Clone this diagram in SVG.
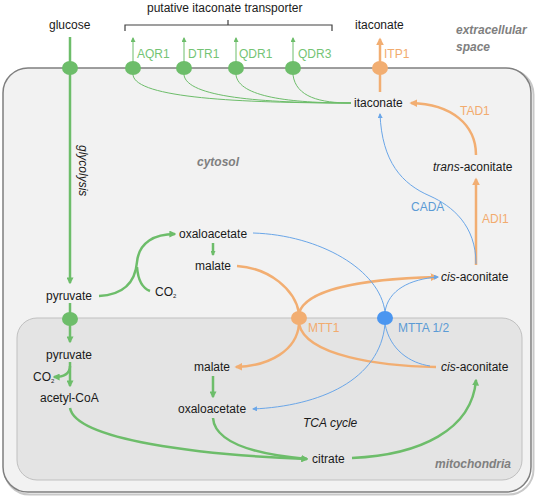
<svg xmlns="http://www.w3.org/2000/svg" width="535" height="496" viewBox="0 0 535 496">
<style>
text{font-family:"Liberation Sans",Arial,sans-serif;font-size:12px;fill:#1a1a1a}
.lbl{font-size:12px}
.g{fill:#74c474}
.o{fill:#f2ab6e}
.b{fill:#5b9bd5}
.zone{font-weight:bold;font-style:italic;fill:#7f7f7f}
.gt{stroke:#6dbd6a;stroke-width:2.5;fill:none}
.gn{stroke:#6dbd6a;stroke-width:1;fill:none}
.ot{stroke:#f2ae72;stroke-width:2.5;fill:none}
.bn{stroke:#6aa6e8;stroke-width:1;fill:none}
</style>
<defs>
<marker id="ag" viewBox="0 0 10 10" refX="8" refY="5" markerWidth="7" markerHeight="7" markerUnits="userSpaceOnUse" orient="auto"><path d="M0,0 L10,5 L0,10 z" fill="#6dbd6a"/></marker>
<marker id="ags" viewBox="0 0 10 10" refX="8" refY="5" markerWidth="5" markerHeight="5" markerUnits="userSpaceOnUse" orient="auto"><path d="M0,0 L10,5 L0,10 z" fill="#6dbd6a"/></marker>
<marker id="ao" viewBox="0 0 10 10" refX="8" refY="5" markerWidth="8" markerHeight="8" markerUnits="userSpaceOnUse" orient="auto"><path d="M0,0 L10,5 L0,10 z" fill="#f2ae72"/></marker>
<marker id="ab" viewBox="0 0 10 10" refX="8" refY="5" markerWidth="5" markerHeight="5" markerUnits="userSpaceOnUse" orient="auto"><path d="M0,0 L10,5 L0,10 z" fill="#6aa6e8"/></marker>
</defs>

<g id="cell">
<rect x="4.5" y="69.5" width="529" height="425" rx="25" fill="none" stroke="#c8c8c8" stroke-width="2"/>
<rect x="3" y="68" width="528" height="424" rx="25" fill="#f2f2f2" stroke="#7f7f7f" stroke-width="1.5"/>
</g>
<g id="mitochondria">
<rect x="17" y="318" width="505" height="162" rx="20" fill="#e4e4e4" stroke="#c0c0c0" stroke-width="1"/>
</g>

<g id="labels-zones">
<text class="zone" x="456" y="34">extracellular</text>
<text class="zone" x="456" y="51">space</text>
<text class="zone" x="197" y="166">cytosol</text>
<text class="zone" x="435" y="468">mitochondria</text>
<text x="303" y="427" font-style="italic">TCA cycle</text>
<text x="79" y="145" font-style="italic" transform="rotate(90 79 145)">glycolysis</text>
</g>

<g id="connectors">
<!-- bracket -->
<path d="M125,31 L125,25 L332,25 L332,31 M228,25 L228,20" fill="none" stroke="#404040" stroke-width="1.2"/>
<!-- glucose -> pyruvate -->
<path class="gt" d="M70,37 L70,283" marker-end="url(#ag)"/>
<!-- transporter arrows -->
<path class="gn" d="M133,68 L133,38" marker-end="url(#ags)"/>
<path class="gn" d="M184,68 L184,38" marker-end="url(#ags)"/>
<path class="gn" d="M236,68 L236,38" marker-end="url(#ags)"/>
<path class="gn" d="M293,68 L293,38" marker-end="url(#ags)"/>
<!-- itaconate to transporters -->
<path class="gn" d="M351,103 C240,103 136,98 133,75"/>
<path class="gn" d="M351,103 C260,103 187,97 184,75"/>
<path class="gn" d="M351,103 C290,103 239,97 236,75"/>
<path class="gn" d="M351,103 C320,103 296,97 293,75"/>
<!-- ITP1 -->
<path class="ot" d="M380,92 L380,39" marker-end="url(#ao)"/>
<!-- TAD1 -->
<path class="ot" d="M476,155 C476,125 452,104 411,103" marker-end="url(#ao)"/>
<!-- ADI1 -->
<path class="ot" d="M476,265 L476,179" marker-end="url(#ao)"/>
<!-- CADA -->
<path class="bn" d="M476,264 C476,225 452,206 430,196 C402,184 382,162 380,114" marker-end="url(#ab)"/>
<!-- pyruvate -> oxaloacetate -->
<path class="gt" d="M99,296 C120,295 135,285 137,262 C139,242 155,234 175,234" marker-end="url(#ag)"/>
<path class="gt" d="M137,267 C138,280 142,288 150,291"/>
<!-- cyt oxaloacetate -> malate -->
<path class="gt" d="M213,243 L213,255" marker-end="url(#ags)"/>
<!-- pyruvate into mito -->
<path class="gt" d="M70,303 L70,342" marker-end="url(#ag)"/>
<path class="gt" d="M70,362 L70,386" marker-end="url(#ag)"/>
<path class="gt" d="M70,366 C70,374 63,377 54,377" marker-end="url(#ag)"/>
<!-- mito malate -> oxaloacetate -->
<path class="gt" d="M213,376 L213,397" marker-end="url(#ag)"/>
<!-- to citrate -->
<path class="gt" d="M70,408 C76,440 200,455 307,459" marker-end="url(#ag)"/>
<path class="gt" d="M213,418 C215,445 262,455 307,459" marker-end="url(#ag)"/>
<!-- citrate -> cis-aconitate -->
<path class="gt" d="M352,458 C420,455 472,430 476,380" marker-end="url(#ag)"/>
<!-- MTT1 orange -->
<path class="ot" d="M237,266 C270,268 295,290 299,313"/>
<path class="ot" d="M299,313 C306,290 360,279 437,277" marker-end="url(#ao)"/>
<path class="ot" d="M299,324 C297,350 270,366 236,367" marker-end="url(#ao)"/>
<path class="ot" d="M436,367 C380,366 306,356 299,324"/>
<!-- MTTA blue -->
<path class="bn" d="M253,233 C320,235 380,270 385,312"/>
<path class="bn" d="M385,312 C388,290 410,279 438,277" marker-end="url(#ab)"/>
<path class="bn" d="M385,324 C380,380 320,406 253,409" marker-end="url(#ab)"/>
<path class="bn" d="M385,324 C390,350 410,363 430,366"/>
</g>

<g id="transporters">
<ellipse id="glut" cx="70" cy="68" rx="8" ry="7" fill="#6dbd6a"/>
<ellipse id="aqr1" cx="133" cy="68" rx="8" ry="7" fill="#6dbd6a"/>
<ellipse id="dtr1" cx="184" cy="68" rx="8" ry="7" fill="#6dbd6a"/>
<ellipse id="qdr1" cx="236" cy="68" rx="8" ry="7" fill="#6dbd6a"/>
<ellipse id="qdr3" cx="293" cy="68" rx="8" ry="7" fill="#6dbd6a"/>
<ellipse id="itp1" cx="380" cy="68" rx="8" ry="7" fill="#f2ae72"/>
<ellipse id="mpc" cx="70" cy="319" rx="8" ry="7" fill="#6dbd6a"/>
<ellipse id="mtt1" cx="299" cy="318" rx="8" ry="7" fill="#f2ae72"/>
<ellipse id="mtta" cx="385" cy="318" rx="8" ry="7" fill="#4b96f0"/>
<text class="g" x="137" y="58">AQR1</text>
<text class="g" x="188" y="58">DTR1</text>
<text class="g" x="239" y="58">QDR1</text>
<text class="g" x="298" y="58">QDR3</text>
<text class="o" x="384" y="58">ITP1</text>
<text class="o" x="460" y="115">TAD1</text>
<text class="o" x="482" y="223">ADI1</text>
<text class="b" x="411" y="211">CADA</text>
<text class="o" x="308" y="332">MTT1</text>
<text class="b" x="398" y="332">MTTA 1/2</text>
</g>

<g id="nodes">
<g id="title"><text x="147" y="12">putative itaconate transporter</text></g>
<g id="glucose"><text x="49" y="29">glucose</text></g>
<g id="itaconate-ext"><text x="355" y="29">itaconate</text></g>
<g id="itaconate-cyt"><text x="354" y="107">itaconate</text></g>
<g id="trans-aconitate"><text x="433" y="171"><tspan font-style="italic">trans</tspan>-aconitate</text></g>
<g id="cis-aconitate-cyt"><text x="441" y="281"><tspan font-style="italic">cis</tspan>-aconitate</text></g>
<g id="oxaloacetate-cyt"><text x="179" y="238">oxaloacetate</text></g>
<g id="malate-cyt"><text x="195" y="270">malate</text></g>
<g id="pyruvate-cyt"><text x="46" y="300">pyruvate</text></g>
<g id="co2-cyt"><text x="155" y="296" font-size="9">CO<tspan font-size="6" dy="2">2</tspan></text></g>
<g id="pyruvate-mit"><text x="46" y="359">pyruvate</text></g>
<g id="co2-mit"><text x="33" y="381" font-size="9">CO<tspan font-size="6" dy="2">2</tspan></text></g>
<g id="acetyl-coa"><text x="40" y="402">acetyl-CoA</text></g>
<g id="malate-mit"><text x="194" y="371">malate</text></g>
<g id="oxaloacetate-mit"><text x="178" y="413">oxaloacetate</text></g>
<g id="citrate"><text x="312" y="463">citrate</text></g>
<g id="cis-aconitate-mit"><text x="441" y="371"><tspan font-style="italic">cis</tspan>-aconitate</text></g>
</g>
</svg>
